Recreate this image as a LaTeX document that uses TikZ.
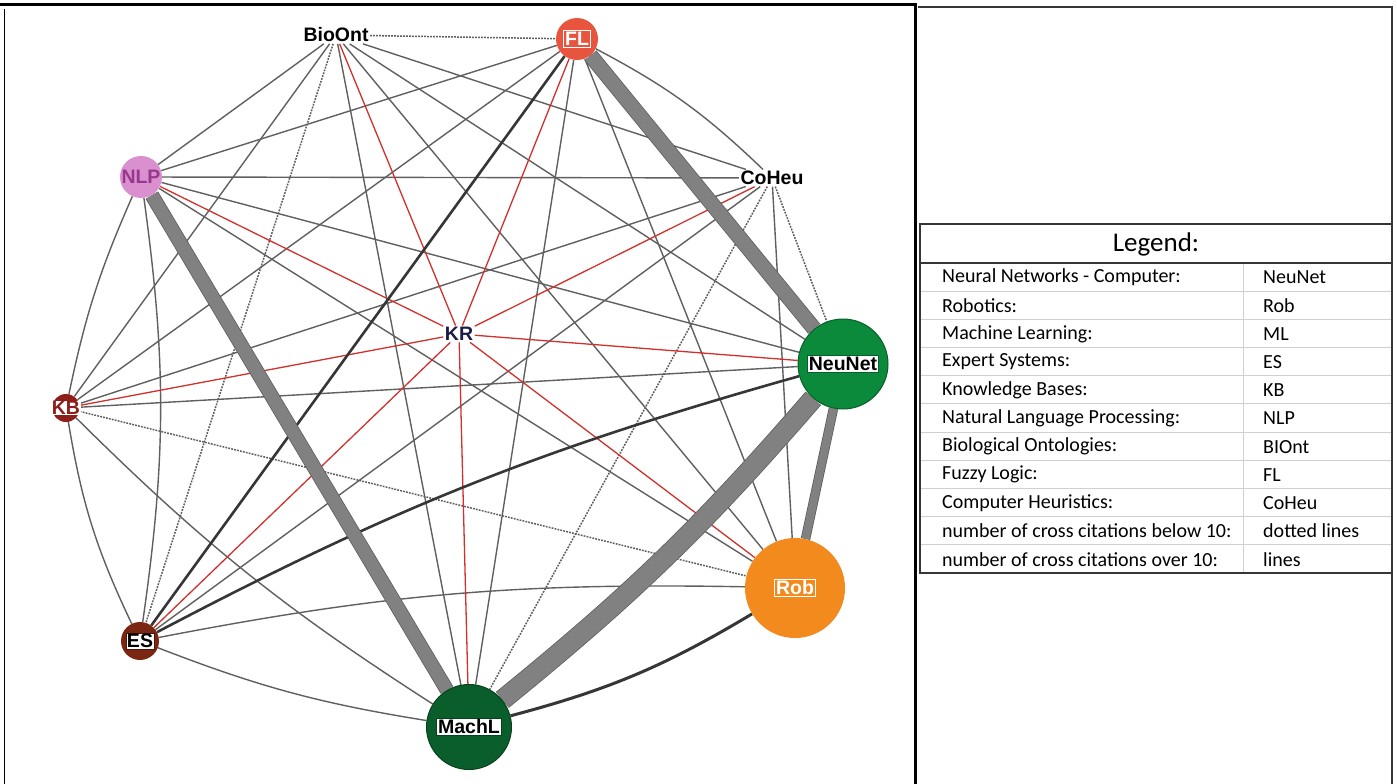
\documentclass[tikz,border=0pt]{standalone}
\usepackage{fontspec}
\setmainfont{Liberation Sans}
\newfontfamily\legfont{Carlito}
\usetikzlibrary{calc}
\pgfdeclarelayer{bg}
\pgfsetlayers{bg,main}
\definecolor{edgegray}{HTML}{606060}
\definecolor{dotgray}{HTML}{5E5E5E}
\definecolor{redc}{HTML}{D0312D}
\definecolor{darkc}{HTML}{363636}
\definecolor{thickgray}{HTML}{818181}
\definecolor{thickborder}{HTML}{5C5C5C}
\definecolor{flred}{HTML}{E8553E}
\definecolor{nlppink}{HTML}{DA8FCF}
\definecolor{nlptext}{HTML}{98388A}
\definecolor{kbred}{HTML}{8E1E1A}
\definecolor{esbrown}{HTML}{7A2612}
\definecolor{nngreen}{HTML}{0B8A3C}
\definecolor{mlgreen}{HTML}{0A5E2B}
\definecolor{roborange}{HTML}{F28A1E}
\definecolor{krnavy}{HTML}{1C1C48}
\definecolor{rowline}{HTML}{D0D0D0}
\begin{document}
\begin{tikzpicture}[x=1pt,y=-1pt,
  lab/.style={font=\fontsize{19.5}{21}\selectfont\bfseries, inner sep=1.5pt},
  circ/.style={circle, inner sep=0pt, minimum size=#1},
  edge/.style={draw=edgegray, line width=1.4pt},
  dotedge/.style={draw=dotgray, line width=1.5pt, dash pattern=on 1.8pt off 1.2pt},
  rededge/.style={draw=redc, line width=1.3pt},
  darkedge/.style={draw=darkc, line width=#1},
  thickedge/.style 2 args={draw=thickgray, line width=#1, preaction={draw=thickborder, line width=#2}},
  legtxt/.style={font=\legfont\fontsize{20}{22}\selectfont, anchor=west, inner sep=0pt},
]
\useasboundingbox (0,0) rectangle (1397,784);

% panels
\draw[line width=1pt] (4,9) -- (4,784);
\draw[line width=3pt] (0,5) -- (917,5);
\draw[line width=3pt] (915,5) -- (915,784);
\draw[line width=1.2pt, draw=darkc] (918,7) -- (1392,7) -- (1392,784);

% nodes
\node[circ=42, fill=flred] (fl) at (577,39) {};
\node[circ=42, fill=nlppink] (nlp) at (141,177) {};
\node[circ=28, fill=kbred] (kb) at (66,408) {};
\node[circ=38, fill=esbrown] (es) at (140,641) {};
\node[circ=90, fill=nngreen, draw=mlgreen, line width=1pt] (nn) at (843,364) {};
\node[circ=100, fill=roborange] (rob) at (795,588) {};
\node[circ=85, fill=mlgreen, draw=mlgreen!70!black, line width=1pt] (ml) at (469,727) {};
\node[lab, text=black] (bio) at (336,35) {BioOnt};
\node[lab, text=black] (co) at (772,178) {CoHeu};
\node[lab, text=krnavy] (kr) at (459,334) {KR};

% labels on circles
\node[lab, text=white, draw=white, line width=1.2pt] (flL) at (fl) {FL};
\node[lab, text=nlptext] (nlpL) at (nlp) {NLP};
\node[lab, text=kbred, fill=white, inner sep=0.5pt] (kbL) at (kb) {KB};
\node[lab, text=black, fill=white, draw=esbrown!60!black, line width=0.8pt, inner sep=1pt] (esL) at (es) {ES};
\node[lab, text=black, fill=white, draw=mlgreen, line width=1pt] (nnL) at (nn) {NeuNet};
\node[lab, text=white, draw=white, line width=1.2pt] (robL) at (rob) {Rob};
\node[lab, text=black, fill=white, draw=mlgreen!70!black, line width=1pt] (mlL) at (ml) {MachL};

\begin{pgfonlayer}{bg}
\fill[white] (0,0) rectangle (1397,784);
% thin gray edges
\draw[edge] (bio) -- (co);
\draw[edge] (bio) -- (nn);
\draw[edge] (bio) -- (rob);
\draw[edge] (bio) -- (ml);
\draw[edge] (bio) -- (kb);
\draw[edge] (bio) -- (nlp);
\draw[edge] (fl) to[bend left=8] (co);
\draw[edge] (fl) -- (rob);
\draw[edge] (fl) -- (ml);
\draw[edge] (fl) -- (kb);
\draw[edge] (fl) -- (nlp);
\draw[edge] (co) -- (rob);
\draw[edge] (co) -- (es);
\draw[edge] (co) -- (kb);
\draw[edge] (co) -- (nlp);
\draw[edge] (nn) -- (kb);
\draw[edge] (nn) -- (nlp);
\draw[edge] (es) to[bend left=6] (rob);
\draw[edge] (rob) -- (nlp);
\draw[edge] (ml) to[bend left=6] (es);
\draw[edge] (ml) to[bend left=6] (kb);
\draw[edge] (es) to[bend left=8] (kb);
\draw[edge] (nlp) to[bend left=8] (es);
\draw[edge] (kb) to[bend left=6] (nlp);
% dotted edges
\draw[dotedge] (bio) -- (fl);
\draw[dotedge] (bio) -- (es);
\draw[dotedge] (co) -- (nn);
\draw[dotedge] (co) -- (ml);
\draw[dotedge] (kb) -- (rob);
% red edges of KR
\foreach \n in {bio,fl,co,nn,rob,ml,es,kb,nlp}
  \draw[rededge] (kr) -- (\n);
% dark edges
\draw[darkedge=2.6pt] (es) -- (fl);
\draw[darkedge=2.6pt] (es) to[bend left=6] (nn);
\draw[darkedge=3pt] (ml) to[bend right=8] (rob);
% thick edges
\draw[thickedge={14pt}{15.5pt}] (fl) -- (nn);
\draw[thickedge={13pt}{14.5pt}] (nlp) -- (ml);
\draw[thickedge={19pt}{20.5pt}] (ml) to[bend right=5] (nn);
\draw[thickedge={8pt}{9.5pt}] (nn) -- (rob);
\end{pgfonlayer}

% legend
\draw[line width=2pt, draw=darkc] (920,224) rectangle (1392,573);
\draw[line width=2pt, draw=darkc] (920,263) -- (1392,263);
\foreach \i in {1,...,10}
  \draw[rowline, line width=1pt] (921,263+28.18*\i) -- (1391,263+28.18*\i);
\draw[rowline, line width=1pt] (1243,264) -- (1243,572);
\node[font=\legfont\fontsize{27}{29}\selectfont, inner sep=0pt] (leghead) at (1156,244) {Legend:};
\foreach [count=\i from 0] \a/\b in {
  Neural Networks - Computer:/NeuNet,
  Robotics:/Rob,
  Machine Learning:/ML,
  Expert Systems:/ES,
  Knowledge Bases:/KB,
  Natural Language Processing:/NLP,
  Biological Ontologies:/BIOnt,
  Fuzzy Logic:/FL,
  Computer Heuristics:/CoHeu,
  number of cross citations below 10:/dotted lines,
  number of cross citations over 10:/lines}
{
  \node[legtxt] (la\i) at (942,263+28.18*\i+14.5) {\a};
  \node[legtxt] (lb\i) at (1263,263+28.18*\i+14.5) {\b};
}
\end{tikzpicture}
\end{document}
